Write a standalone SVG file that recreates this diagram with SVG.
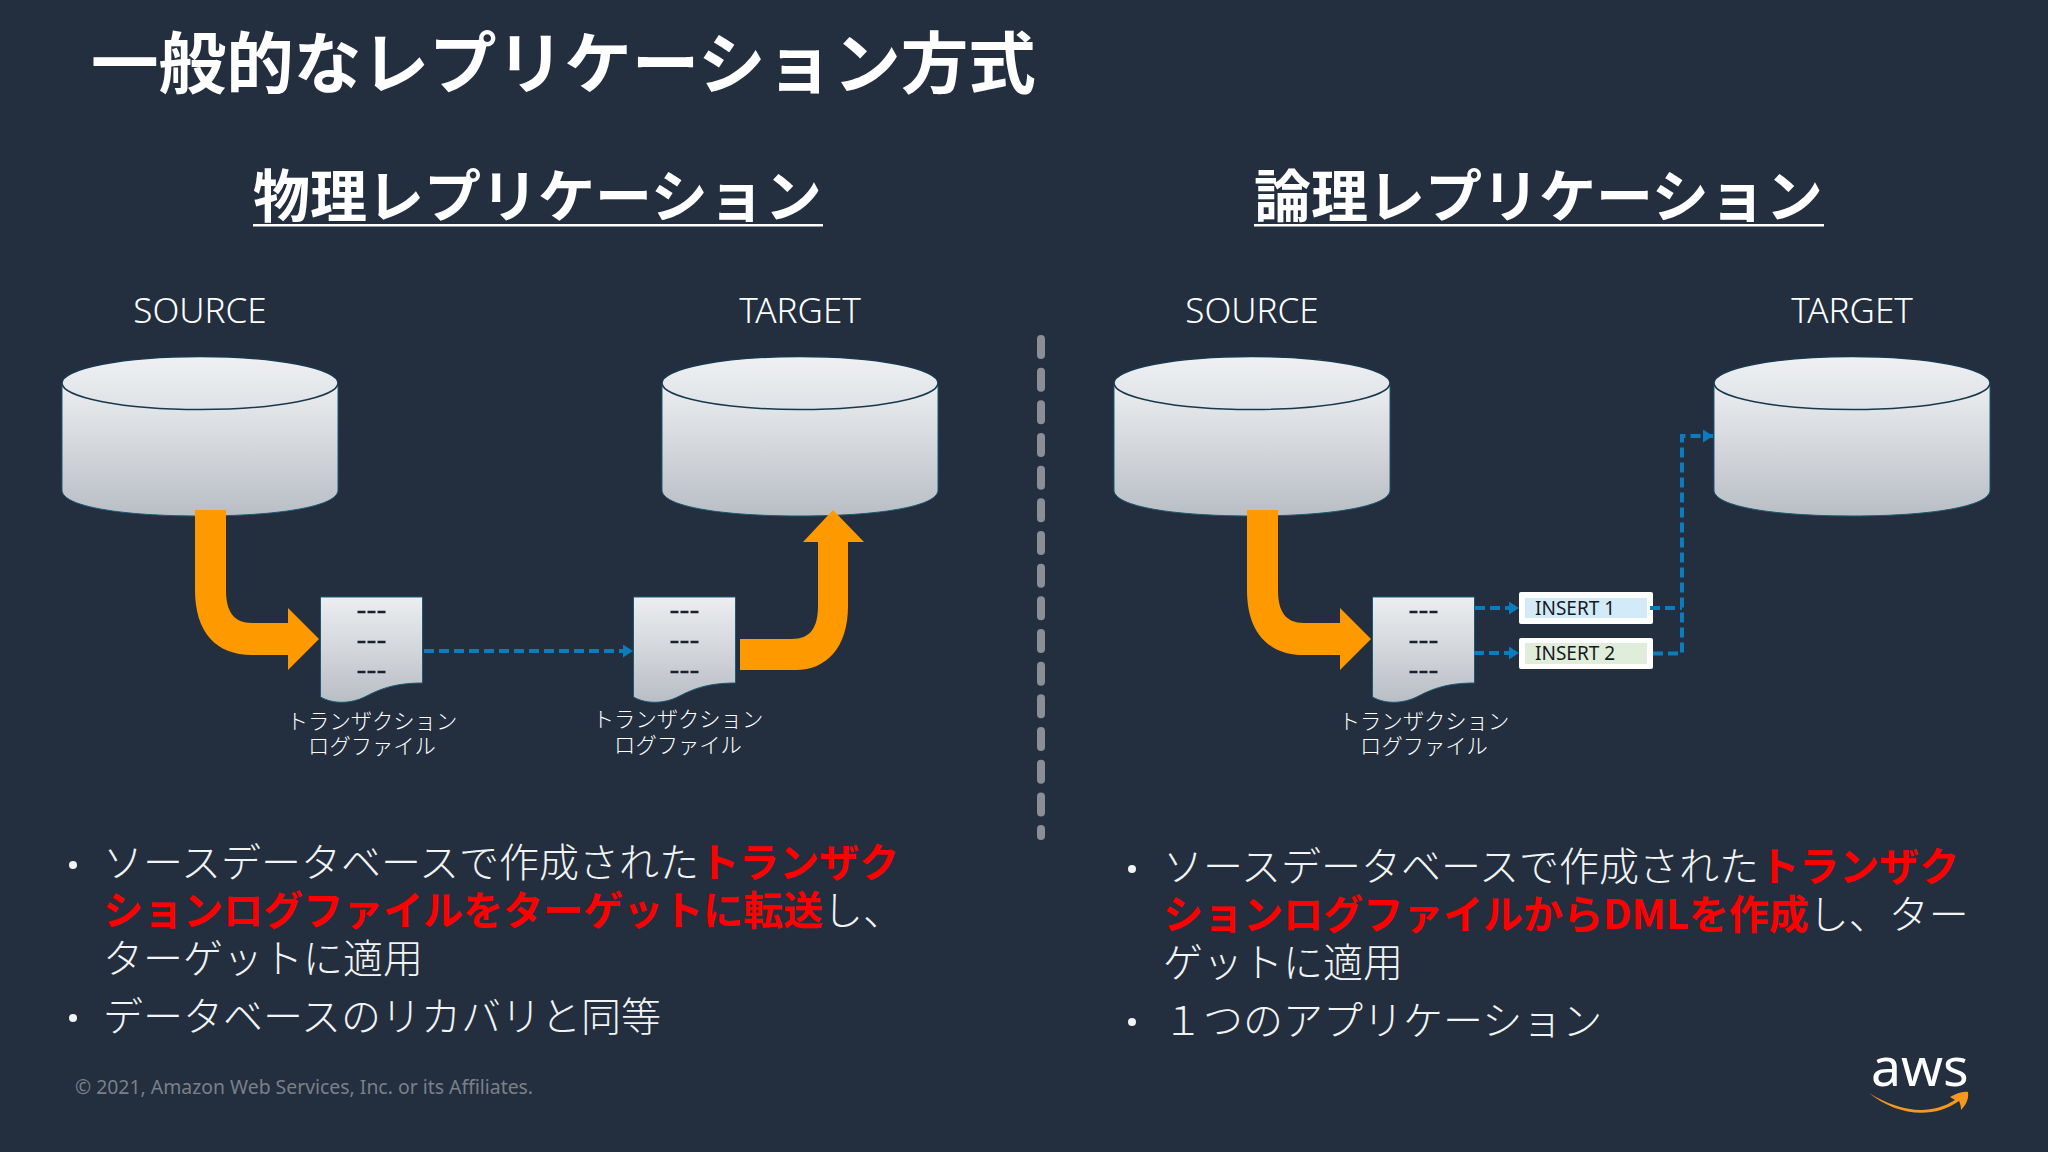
<svg xmlns="http://www.w3.org/2000/svg" width="2048" height="1152" viewBox="0 0 2048 1152">
<style>
text{font-family:"Noto Sans","Noto Sans CJK JP",sans-serif;fill:#fff}
.title{font-family:"Noto Sans CJK JP",sans-serif;font-weight:700;font-size:67.6px}
.sub{font-family:"Noto Sans CJK JP",sans-serif;font-weight:700;font-size:57px}
.body{font-family:"Noto Sans CJK JP",sans-serif;font-size:40px;font-weight:300;fill:#f2f3f3}
.red{fill:#ff0000;font-weight:700}
.lab{font-size:35px;text-anchor:middle;font-weight:300}
.cap{font-family:"Noto Sans CJK JP",sans-serif;font-size:21.3px;font-weight:300;text-anchor:middle}
.ins{font-size:19px;fill:#16191f}
.flow{fill:none;stroke:#0b7cbd;stroke-width:4;stroke-dasharray:10 5}
.big{fill:#ff9900}
.dots{stroke:#16232f;stroke-width:2.500;stroke-dasharray:8 2;fill:none}
</style>
<defs>
<linearGradient id="g" x1="0" y1="0" x2="0" y2="1"><stop offset="0" stop-color="#eceef0"/><stop offset="1" stop-color="#b9bec5"/></linearGradient>
<linearGradient id="t" x1="0" y1="0" x2="0" y2="1"><stop offset="0" stop-color="#eef0f2"/><stop offset="1" stop-color="#dfe2e6"/></linearGradient>
<marker id="ah" markerUnits="userSpaceOnUse" markerWidth="11" markerHeight="13" refX="10" refY="6.5" orient="auto"><path d="M0 0L10 6.500L0 13Z" fill="#0b7cbd"/></marker>
<g id="cyl">
<path d="M-138 0V107C-138 124 -76 133 0 133S138 124 138 107V0Z" fill="url(#g)" stroke="#1b5a72" stroke-width="1"/>
<ellipse cx="0" cy="0" rx="138" ry="26.500" fill="url(#t)" stroke="#17384d" stroke-width="1.500"/>
</g>
<g id="doc">
<path d="M0 0H102V86C72 86 58 93 44 100C32 106 14 108 0 100Z" fill="url(#g)" stroke="#1b5a72" stroke-width="1"/>
<path class="dots" d="M37 15H65M37 45H65M37 75H65"/>
</g>
</defs>
<rect width="2048" height="1152" fill="#232f3e"/>
<text class="title" x="91" y="88">一般的なレプリケーション方式</text>
<g id="left-heading"><text class="sub" x="253" y="217">物理レプリケーション</text><rect x="253" y="224" width="570" height="2.500" fill="#fff"/></g>
<g id="right-heading"><text class="sub" x="1254" y="217">論理レプリケーション</text><rect x="1254" y="224" width="570" height="2.500" fill="#fff"/></g>

<g id="source-left"><text class="lab" x="200" y="323">SOURCE</text><use href="#cyl" x="200" y="383"/></g>
<g id="target-left"><text class="lab" x="800" y="323">TARGET</text><use href="#cyl" x="800" y="383"/></g>
<g id="source-right"><text class="lab" x="1252" y="323">SOURCE</text><use href="#cyl" x="1252" y="383"/></g>
<g id="target-right"><text class="lab" x="1852" y="323">TARGET</text><use href="#cyl" x="1852" y="383"/></g>

<g id="log-left-1"><use href="#doc" x="320.500" y="597"/><text class="cap" x="372" y="729">トランザクション</text><text class="cap" x="372" y="754">ログファイル</text></g>
<g id="log-left-2"><use href="#doc" x="633.500" y="597"/><text class="cap" x="678" y="727">トランザクション</text><text class="cap" x="678" y="753">ログファイル</text></g>
<g id="log-right"><use href="#doc" x="1372.500" y="597"/><text class="cap" x="1424" y="729">トランザクション</text><text class="cap" x="1424" y="754">ログファイル</text></g>

<g id="insert-1"><rect x="1519" y="592" width="134" height="32" rx="2" fill="#fff"/><rect x="1525" y="598" width="122" height="20" fill="#d3ebf9"/><text class="ins" x="1535" y="615">INSERT 1</text></g>
<g id="insert-2"><rect x="1519" y="638" width="134" height="31" rx="2" fill="#fff"/><rect x="1525" y="643" width="122" height="21" fill="#e0eddb"/><text class="ins" x="1535" y="660">INSERT 2</text></g>

<g id="connectors">
<path class="big" d="M195 510H226V590C226 612 234 623 252 623H288V608L319 639L288 670V655H252C216 655 195 632 195 590Z"/>
<path class="big" transform="translate(1052 0)" d="M195 510H226V590C226 612 234 623 252 623H288V608L319 639L288 670V655H252C216 655 195 632 195 590Z"/>
<path class="big" d="M740 639H792C810 639 818 628 818 606V542H803L833 510L864 542H848V606C848 648 826 670 796 670H740Z"/>
<path class="flow" d="M424 651H633" marker-end="url(#ah)"/>
<path class="flow" d="M1475 608H1519" marker-end="url(#ah)"/>
<path class="flow" d="M1474 653H1519" marker-end="url(#ah)"/>
<path class="flow" d="M1650 608H1682"/>
<path class="flow" d="M1653 653.500H1682V436H1713" marker-end="url(#ah)"/>
<path d="M1041 339V836" fill="none" stroke="#8a8f96" stroke-width="8" stroke-linecap="round" stroke-dasharray="16 16.670"/>
</g>

<g id="text-left">
<circle cx="73" cy="865" r="4" fill="#f2f3f3"/>
<text class="body" x="103" y="877">ソースデータベースで作成された<tspan class="red">トランザク</tspan></text>
<text class="body" x="103" y="925"><tspan class="red">ションログファイルをターゲットに転送</tspan>し、</text>
<text class="body" x="103" y="973">ターゲットに適用</text>
<circle cx="73" cy="1018" r="4" fill="#f2f3f3"/>
<text class="body" x="103" y="1031">データベースのリカバリと同等</text>
</g>
<g id="text-right">
<circle cx="1132" cy="869" r="4" fill="#f2f3f3"/>
<text class="body" x="1163" y="881">ソースデータベースで作成された<tspan class="red">トランザク</tspan></text>
<text class="body" x="1163" y="929"><tspan class="red">ションログファイルからDMLを作成</tspan>し、ター</text>
<text class="body" x="1163" y="977">ゲットに適用</text>
<circle cx="1132" cy="1022" r="4" fill="#f2f3f3"/>
<text class="body" x="1163" y="1035">１つのアプリケーション</text>
</g>
<text x="75" y="1094" font-size="19.400" style="fill:#7b8088">© 2021, Amazon Web Services, Inc. or its Affiliates.</text>
<g id="aws-logo">
<text x="1871" y="1086" font-size="53.500">aws</text>
<path d="M1869 1093C1900 1112 1930 1116 1955 1100L1950 1097C1956 1094 1962 1091 1968 1092C1969 1099 1966 1105 1961 1110C1961 1106 1960 1103 1959 1101C1932 1120 1896 1115 1869 1093Z" fill="#f7981d"/>
</g>
</svg>
